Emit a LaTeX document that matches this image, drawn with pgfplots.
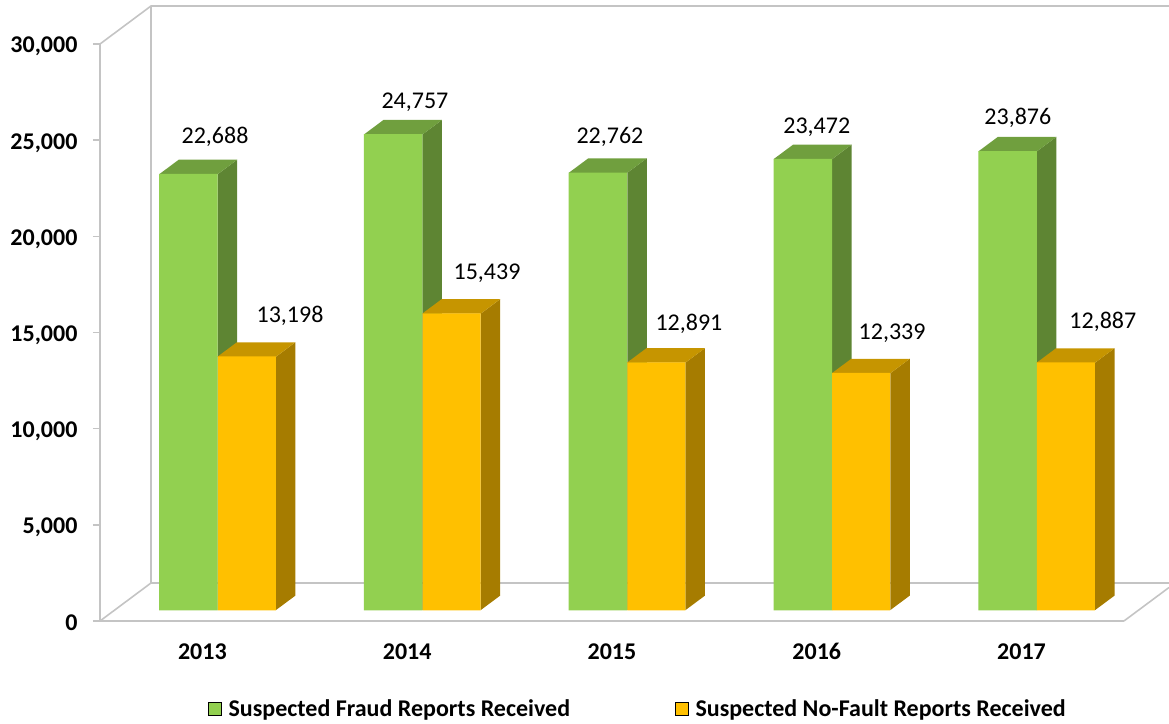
\documentclass[border=0pt]{standalone}
\usepackage{fontspec}
\setmainfont{Carlito}
\usepackage{pgfplots}
\pgfplotsset{compat=1.18}
\definecolor{gfront}{HTML}{92D050}
\definecolor{gside}{HTML}{5E8533}
\definecolor{gtop}{HTML}{709F3E}
\definecolor{ofront}{HTML}{FFC000}
\definecolor{oside}{HTML}{A67C00}
\definecolor{otop}{HTML}{C69500}
\definecolor{gridg}{HTML}{C4C4C4}
% #1 category, #2 value, #3 right edge of bar from the tick (px), #4 side colour, #5 top colour
\newcommand\sidetop[5]{%
  \edef\xr{\fpeval{round(#1+(#3)/204.8,5)}}%
  \edef\xl{\fpeval{round(\xr-58.5/204.8,5)}}%
  \edef\xb{\fpeval{round(\xr+19.5/204.8,5)}}%
  \edef\xc{\fpeval{round(\xl+19.5/204.8,5)}}%
  \edef\yv{\fpeval{#2+540}}%
  \edef\yt{\fpeval{\yv+754}}%
  \edef\tmp{\noexpand\addplot[fill=#4,draw=none,forget plot] coordinates {(\xr,\yv)(\xb,\yt)(\xb,1320)(\xr,566)} --cycle;
    \noexpand\addplot[fill=#5,draw=none,forget plot] coordinates {(\xl,\yv)(\xc,\yt)(\xb,\yt)(\xr,\yv)} --cycle;}%
  \tmp}
\begin{document}
\begin{tikzpicture}
\path[use as bounding box] (-100pt,-102pt) rectangle (1069pt,621pt);
\begin{axis}[
  at={(0pt,0pt)}, anchor=south west,
  scale only axis, width=1024pt, height=577pt,
  xmin=-0.5, xmax=4.5, ymin=0, ymax=30000,
  clip=false,
  axis x line*=bottom, axis y line*=left,
  axis line style={-, draw=gridg, line width=1.6pt},
  xtick={0,1,2,3,4},
  xticklabels={2013,2014,2015,2016,2017},
  ytick={0,5000,10000,15000,20000,25000,30000},
  /pgf/number format/assume math mode=true,
  /pgf/number format/1000 sep={,},
  scaled y ticks=false,
  tick align=outside,
  major tick length=7pt,
  y tick style={draw=gridg, line width=1.4pt},
  x tick style={draw=none},
  tick label style={font=\fontsize{24}{24}\selectfont\bfseries, text=black, text height=15pt, text depth=0pt},
  yticklabel style={xshift=-12pt, yshift=-1.5pt},
  xticklabel style={yshift=-13pt},
  legend style={at={(0.5254,-0.1525)}, anchor=center, draw=none, fill=none,
    legend columns=2, font=\fontsize{24}{24}\selectfont\bfseries,
    /tikz/every odd column/.append style={column sep=5pt},
    /tikz/every even column/.append style={column sep=103pt}},
  legend image code/.code={\fill[#1] (0pt,-6.5pt) rectangle (13pt,6.5pt);},
  nodes near coords style={font=\fontsize{24}{24}\selectfont, anchor=center, text=black, text height=15pt, text depth=0pt, yshift=-1pt},
]
\addlegendimage{fill=gfront}
\addlegendentry{Suspected Fraud Reports Received}
\addlegendimage{fill=ofront}
\addlegendentry{Suspected No-Fault Reports Received}

% walls and floor
\addplot[draw=gridg, line width=1.6pt, forget plot] coordinates {(-0.5,30000)(-0.251,31976)(4.72,31976)};
\addplot[draw=gridg, line width=1.6pt, forget plot] coordinates {(-0.5,0)(-0.251,1976)(4.72,1976)};
\addplot[draw=gridg, line width=1.6pt, forget plot] coordinates {(-0.251,1976)(-0.251,31976)};
\addplot[draw=gridg, line width=1.6pt, forget plot] coordinates {(4.5,0)(4.72,1742)};

% side and top faces
\sidetop{0}{22688}{15.3}{gside}{gtop}
\sidetop{1}{24757}{15.3}{gside}{gtop}
\sidetop{2}{22762}{15.3}{gside}{gtop}
\sidetop{3}{23472}{15.3}{gside}{gtop}
\sidetop{4}{23876}{15.3}{gside}{gtop}

% front faces, fraud
\addplot[ybar, bar width=58.5pt, bar shift=-14pt, yshift=10.7pt, fill=gfront, draw=none, forget plot]
  coordinates {(0,22688)(1,24757)(2,22762)(3,23472)(4,23876)};

\sidetop{0}{13198}{73.5}{oside}{otop}
\sidetop{1}{15439}{73.5}{oside}{otop}
\sidetop{2}{12891}{73.5}{oside}{otop}
\sidetop{3}{12339}{73.5}{oside}{otop}
\sidetop{4}{12887}{73.5}{oside}{otop}

% front faces, no-fault
\addplot[ybar, bar width=58pt, bar shift=44.4pt, yshift=10.7pt, fill=ofront, draw=none, forget plot]
  coordinates {(0,13198)(1,15439)(2,12891)(3,12339)(4,12887)};

% data labels
\addplot[draw=none, mark=none, forget plot, nodes near coords, point meta=explicit symbolic]
  coordinates {
  (0.0615,25269)[22,688] (1.038,27089)[24,757] (1.99,25269)[22,762] (3.0,25789)[23,472] (3.982,26257)[23,876]
  (0.428,15962)[13,198] (1.39,18198)[15,439] (2.376,15546)[12,891] (3.368,15078)[12,339] (4.397,15650)[12,887]};
\end{axis}
\end{tikzpicture}
\end{document}
